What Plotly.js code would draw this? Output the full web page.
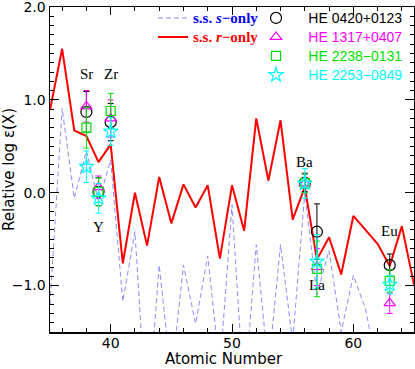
<!DOCTYPE html>
<html>
<head>
<meta charset="utf-8">
<script src="https://cdn.plot.ly/plotly-3.0.1.min.js"></script>
<style>
  body { margin: 0; background: #fff; }
  #chart { width: 415px; height: 369px; }
</style>
</head>
<body>
<div id="chart"></div>
<script>
// atomic numbers for the model curves
var zModel = [35, 36, 37, 38, 39, 40, 41, 42, 43, 44, 45, 46, 47, 48, 49, 50,
              51, 52, 53, 54, 55, 56, 57, 58, 59, 60, 61, 62, 63, 64, 65];
// solar system s-only pattern (scaled)
var sOnly = [-1.2, 0.91, -0.06, 0.45, -0.1, 0.35, -1.17, -0.42, -2.5, -0.78, -2.0, -0.78, -1.41, -0.68, -1.9, -0.13,
             -2.2, -0.56, -1.9, -0.56, -1.6, 0.0, -1.1, -0.62, -1.5, -0.89, -1.25, -1.9, -2.0, -1.9, -2.0];
// solar system r-only pattern (scaled)
var rOnly = [0.89, 1.55, 0.67, 0.61, 0.33, 0.52, -0.76, 0.0, -0.57, 0.17, -0.33, 0.09, -0.16, 0.08, -0.71, 0.08,
             -0.41, 0.80, 0.13, 0.78, -0.29, 0.06, -0.72, -0.48, -0.88, -0.25, -0.40, -0.55, -0.79, -0.36, -0.99];

// observed elements: Sr, Y, Zr, Ba, La, Eu
var elements = ['Sr', 'Y', 'Zr', 'Ba', 'La', 'Eu'];
var zObs = [38, 39, 40, 56, 57, 63];

var he0420 = [0.87, 0.01, 0.76, 0.11, -0.42, -0.78];
var he0420Err = [0.22, 0.15, 0.20, 0.10, 0.30, 0.12];
var he1317 = [0.93, 0.06, 0.80, 0.10, -0.80, -1.19];
var he1317Err = [0.17, 0.12, 0.20, 0.10, 0.20, 0.11];
var he2238 = [0.70, 0.01, 0.88, 0.10, -0.82, -0.95];
var he2238Err = [0.22, 0.15, 0.19, 0.10, 0.30, 0.12];
var he2253 = [0.28, -0.06, 0.66, 0.10, -0.74, -0.99];
var he2253Err = [0.17, 0.16, 0.15, 0.16, 0.29, 0.10];

// element label positions
var labelZ = [38, 39, 40, 56, 57, 63];
var labelY = [1.28, -0.37, 1.28, 0.33, -0.99, -0.41];

var sp = '\u2002\u2002';

function star(name, yv, err, color, symbol, size) {
    return {
        x: zObs, y: yv, type: 'scatter', mode: 'markers',
        name: sp + '<span style="color:' + color + ';font-size:14px">' + name + '</span>',
        legend: 'legend2',
        marker: {symbol: symbol, size: size, color: color, line: {color: color, width: 1.2}},
        error_y: {type: 'data', array: err, visible: true, color: color, thickness: 1, width: 3}
    };
}

var data = [
    {
        x: zModel, y: sOnly, type: 'scatter', mode: 'lines',
        name: '<span style="color:#0000ff;font-size:15px"><b>s.s. <i>s</i>\u2212only</b></span>',
        line: {color: '#8c8cff', width: 1, dash: '5px,3px'}
    },
    {
        x: zModel, y: rOnly, type: 'scatter', mode: 'lines',
        name: '<span style="color:#ff0000;font-size:15px"><b>s.s. <i>r</i>\u2212only</b></span>',
        line: {color: '#ff0000', width: 2}
    },
    star('HE 0420+0123', he0420, he0420Err, '#000000', 'circle-open', 11),
    star('HE 1317+0407', he1317, he1317Err, '#ff00ff', 'triangle-up-open', 10),
    star('HE 2238\u22120131', he2238, he2238Err, '#00e000', 'square-open', 9),
    star('HE 2253\u22120849', he2253, he2253Err, '#00ffff', 'star-open', 11)
];

var axisFont = {family: 'DejaVu Sans', size: 15, color: '#000'};
var tickFont = {family: 'DejaVu Sans', size: 14, color: '#000'};

var annotations = [];
for (var i = 0; i < elements.length; i++) {
    annotations.push({
        x: labelZ[i], y: labelY[i], text: elements[i], showarrow: false,
        font: {family: 'Liberation Serif', size: 15, color: '#000'}
    });
}
// x axis title, placed a little lower than plotly puts it
annotations.push({
    xref: 'paper', yref: 'paper', x: 0.478, y: -0.083,
    xanchor: 'center', yanchor: 'middle', showarrow: false, borderpad: 0,
    text: 'Atomic Number', font: axisFont
});

var layout = {
    width: 415,
    height: 369,
    margin: {l: 50, r: 1, t: 7, b: 37},
    paper_bgcolor: '#fff',
    plot_bgcolor: '#fff',
    font: axisFont,
    showlegend: true,
    legend: {
        x: 0.283, xanchor: 'left', y: 1.011, yanchor: 'top',
        bgcolor: 'rgba(0,0,0,0)', borderwidth: 0,
        font: {family: 'Liberation Serif', size: 12.3}
    },
    legend2: {
        x: 0.566, xanchor: 'left', y: 1.011, yanchor: 'top',
        bgcolor: 'rgba(0,0,0,0)', borderwidth: 0,
        font: {family: 'Liberation Sans', size: 12.3}
    },
    xaxis: {
        range: [35, 65],
        dtick: 10, tick0: 0,
        ticks: 'inside', ticklen: 8, tickwidth: 1, tickcolor: '#000',
        ticklabelstandoff: -2,
        minor: {dtick: 2, ticklen: 4, tickcolor: '#000', ticks: 'inside'},
        showline: true, linecolor: '#000', linewidth: 1.5, mirror: 'allticks',
        showgrid: false, zeroline: false,
        tickfont: tickFont
    },
    yaxis: {
        range: [-1.5, 2.0],
        dtick: 1, tick0: 0, tickformat: '.1f',
        ticklabeloverflow: 'allow',
        ticks: 'inside', ticklen: 9, tickwidth: 1, tickcolor: '#000',
        minor: {dtick: 0.1, ticklen: 4, tickcolor: '#000', ticks: 'inside'},
        showline: true, linecolor: '#000', linewidth: 1.5, mirror: 'allticks',
        showgrid: false, zeroline: false,
        tickfont: tickFont,
        title: {text: 'Relative log \u03b5(X)', font: axisFont, standoff: 8}
    },
    annotations: annotations
};

Plotly.newPlot('chart', data, layout, {displayModeBar: false, staticPlot: true});
</script>
</body>
</html>
